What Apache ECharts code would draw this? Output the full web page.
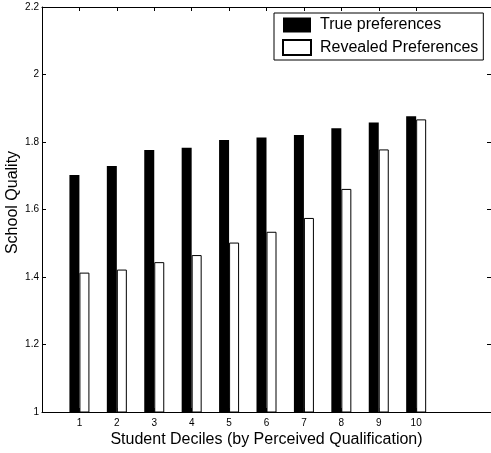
<!DOCTYPE html>
<html>
<head>
<meta charset="utf-8">
<script src="https://cdn.jsdelivr.net/npm/echarts@6/dist/echarts.min.js"></script>
<style>
html,body{margin:0;padding:0;background:#fff;}
#c{width:491px;height:453px;}
</style>
</head>
<body>
<div id="c"></div>
<script>
// x positions 0..12 (deciles 1..10 labelled)
var categories = ['0','1','2','3','4','5','6','7','8','9','10','11','12'];
var truePreferences = [null,1.702,1.729,1.776,1.783,1.806,1.813,1.821,1.841,1.858,1.876,null,null];
var revealedPreferences = [null,1.413,1.422,1.444,1.465,1.502,1.534,1.575,1.661,1.778,1.867,null,null];
var yMin = 1, yMax = 2.2, yStep = 0.2;

var font = 'Liberation Sans, Arial, Helvetica, sans-serif';
var chart = echarts.init(document.getElementById('c'), null, {renderer:'canvas'});
function showIdx(i){ return i >= 1 && i <= 10; }
chart.setOption({
  animation:false,
  backgroundColor:'#fff',
  textStyle:{fontFamily:font},
  grid:{left:42, top:7, width:449, height:405, containLabel:false, outerBoundsMode:'none'},
  legend:{
    orient:'vertical', left:274, top:13,
    padding:[4,5,4,8],
    borderColor:'#000', borderWidth:1, backgroundColor:'#fff',
    itemWidth:28, itemHeight:15, itemGap:6,
    textStyle:{fontSize:16, color:'#000', fontFamily:font, padding:[0,0,0,4]},
    data:[{name:'True preferences', icon:'rect'},{name:'Revealed Preferences', icon:'rect'}]
  },
  xAxis:[{
    type:'category', data:categories, boundaryGap:false, position:'bottom',
    name:'Student Deciles (by Perceived Qualification)', nameLocation:'middle', nameGap:20,
    nameMoveOverlap:false,
    nameTextStyle:{fontSize:16, color:'#000', fontFamily:font},
    axisLine:{lineStyle:{color:'#000', width:1}},
    axisTick:{inside:true, length:4, lineStyle:{color:'#000'}, interval:function(i){return showIdx(i);}},
    axisLabel:{fontSize:10, color:'#000', margin:6, fontFamily:font, interval:0,
      formatter:function(v, i){ return showIdx(i) ? v : ''; }},
    splitLine:{show:false}
  },{
    type:'category', data:categories, boundaryGap:false, position:'top',
    axisLine:{lineStyle:{color:'#000', width:1}},
    axisTick:{inside:true, length:4, lineStyle:{color:'#000'}, interval:function(i){return showIdx(i);}},
    axisLabel:{show:false}, splitLine:{show:false}
  }],
  yAxis:[{
    type:'value', min:yMin, max:yMax, interval:yStep, position:'left',
    name:'School Quality', nameLocation:'middle', nameGap:21, nameRotate:90,
    nameMoveOverlap:false,
    nameTextStyle:{fontSize:16, color:'#000', fontFamily:font, padding:[0,0,0,14]},
    axisLine:{show:true, lineStyle:{color:'#000', width:1}},
    axisTick:{show:true, inside:true, length:4, lineStyle:{color:'#000'}},
    axisLabel:{fontSize:10, color:'#000', margin:3, fontFamily:font},
    splitLine:{show:false}
  },{
    type:'value', min:yMin, max:yMax, interval:yStep, position:'right',
    axisLine:{show:false},
    axisTick:{show:true, inside:true, length:4, lineStyle:{color:'#000'}},
    axisLabel:{show:false}, splitLine:{show:false}
  }],
  series:[{
    name:'True preferences', type:'bar', data:truePreferences,
    xAxisIndex:0, yAxisIndex:0,
    barWidth:10, barGap:'0%',
    itemStyle:{color:'#000', borderColor:'#000', borderWidth:0}
  },{
    name:'Revealed Preferences', type:'bar', data:revealedPreferences,
    xAxisIndex:0, yAxisIndex:0,
    barWidth:10, barGap:'0%',
    itemStyle:{color:'#fff', borderColor:'#000', borderWidth:1}
  }]
});
</script>
</body>
</html>
